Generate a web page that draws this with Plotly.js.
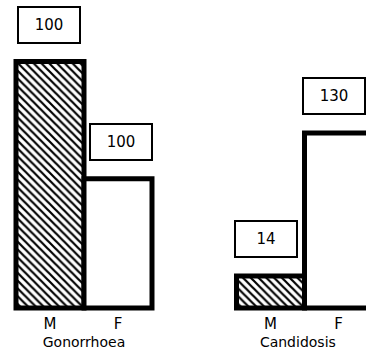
<!DOCTYPE html>
<html>
<head>
<meta charset="utf-8">
<script src="https://cdn.plot.ly/plotly-3.0.1.min.js"></script>
<style>html,body{margin:0;padding:0;background:#fff}#chart{width:366px;height:351px}</style>
</head>
<body>
<div id="chart"></div>
<script>
// Data
const diseases = ["Gonorrhoea", "Candidosis"];
const sexes = ["M", "F"];
// bar heights (relative, Gonorrhoea M = 100)
const gonorrhoeaHeights = [100, 52.5];
const candidosisHeights = [13, 71];
// numbers printed in the boxes above each bar
const gonorrhoeaLabels = ["100", "100"];
const candidosisLabels = ["14", "130"];

const heights = [gonorrhoeaHeights, candidosisHeights];
const labels = [gonorrhoeaLabels, candidosisLabels];

// styling only
const labelShift = [[-1, 3], [-5, -5]];
const hatch = ["\\", ""];
const mainFont = "DejaVu Sans, sans-serif";

const traces = [];
const annotations = [];
diseases.forEach((d, i) => {
  const xa = i === 0 ? "x" : "x2";
  const ya = i === 0 ? "y" : "y2";
  sexes.forEach((s, j) => {
    const marker = {color: "#ffffff", line: {color: "#000", width: 5}};
    if (hatch[j]) {
      marker.pattern = {shape: hatch[j], fgcolor: "#000", fgopacity: 1, size: 5.5, solidity: 0.4, fillmode: "overlay"};
    }
    traces.push({
      type: "bar",
      x: [s],
      y: [heights[i][j]],
      xaxis: xa,
      yaxis: ya,
      width: 1,
      marker: marker,
      hoverinfo: "skip",
      showlegend: false
    });
    annotations.push({
      xref: xa, yref: ya, x: s, y: heights[i][j],
      yanchor: "bottom", yshift: 18, xshift: labelShift[i][j],
      text: labels[i][j], showarrow: false,
      width: 58, height: 32, borderpad: 1,
      bordercolor: "#000", borderwidth: 2, bgcolor: "#fff",
      font: {family: mainFont, size: 15, color: "#000"}
    });
  });
});

const axisCommon = {
  type: "category",
  categoryorder: "array", categoryarray: sexes,
  showgrid: false, zeroline: false, showline: false, ticks: "",
  tickfont: {family: mainFont, size: 15, color: "#000"},
  fixedrange: true
};
const yCommon = {
  range: [-2, 124.98], showgrid: false, zeroline: false, showline: false,
  showticklabels: false, ticks: "", fixedrange: true
};

const layout = {
  width: 366, height: 351,
  margin: {l: 0, r: 0, t: 0, b: 38, pad: 0},
  paper_bgcolor: "#fff", plot_bgcolor: "rgba(0,0,0,0)",
  barmode: "overlay",
  bargap: 0,
  showlegend: false,
  xaxis: Object.assign({}, axisCommon, {
    domain: [9.2 / 366, 158.8 / 366], range: [-0.6, 1.6], anchor: "y",
    title: {text: diseases[0], font: {family: mainFont, size: 14, color: "#000"}, standoff: 5}
  }),
  xaxis2: Object.assign({}, axisCommon, {
    domain: [229.7 / 366, 1], range: [-0.6, 1.404], anchor: "y2",
    title: {text: diseases[1], font: {family: mainFont, size: 14, color: "#000"}, standoff: 5}
  }),
  yaxis: Object.assign({}, yCommon, {anchor: "x"}),
  yaxis2: Object.assign({}, yCommon, {anchor: "x2"}),
  annotations: annotations
};

Plotly.newPlot("chart", traces, layout, {displayModeBar: false, staticPlot: true});
</script>
</body>
</html>
